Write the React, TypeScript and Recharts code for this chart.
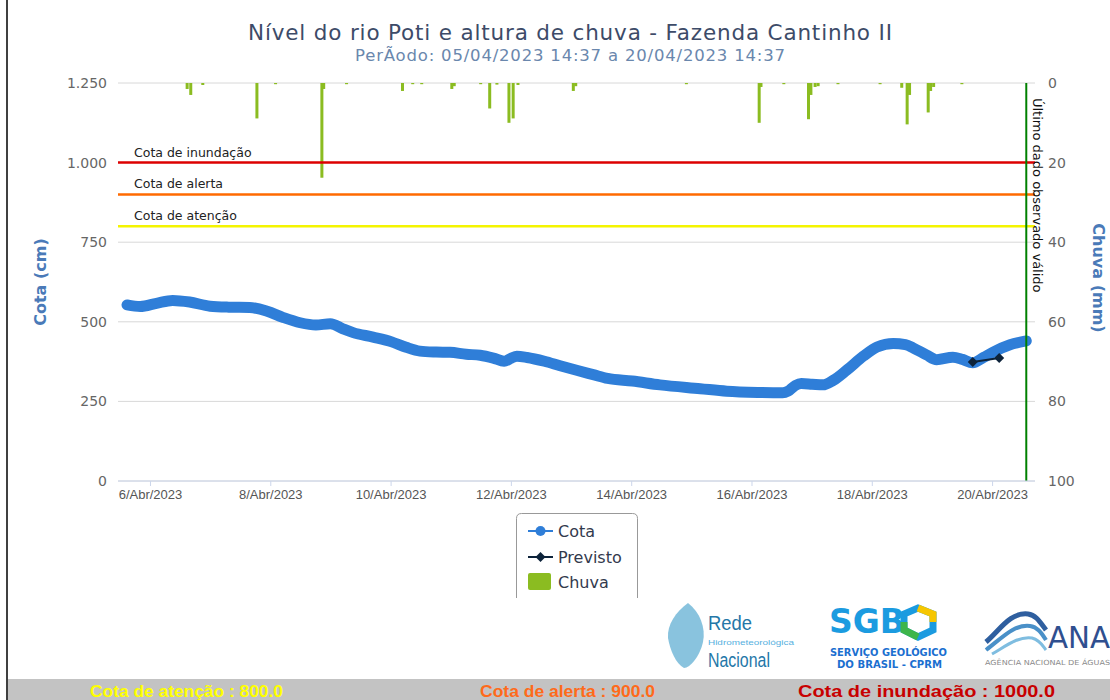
import React from 'react';
import { ComposedChart, Line, Bar, XAxis, YAxis, CartesianGrid, ReferenceLine } from 'recharts';

// dias de abril (fração do dia) e cota em cm
const cotaDias = [
    5.61, 5.83, 6.1, 6.37, 6.65, 6.99, 7.3, 7.65, 7.94, 8.2, 8.49, 8.75, 8.99, 9.2, 9.37, 9.7,
    10.01, 10.25, 10.48, 10.75, 10.98, 11.25, 11.48, 11.7, 11.88, 12.0, 12.09, 12.26, 12.55, 12.81,
    13.1, 13.36, 13.6, 14.01, 14.47, 15.14, 15.58, 16.13, 16.51, 16.6, 16.72, 16.82, 17.0, 17.18,
    17.35, 17.58, 17.85, 18.08, 18.35, 18.55, 18.68, 18.9, 19.07, 19.34, 19.5, 19.67, 19.85, 20.01,
    20.29, 20.56,
];
const cotaCm = [
    553, 548, 558, 567, 562, 549, 546, 545, 533, 514, 497, 490, 494, 478, 466, 452,
    437, 420, 408, 405, 404, 398, 395, 386, 376, 386, 392, 388, 376, 362,
    347, 334, 322, 314, 302, 290, 282, 278, 277, 282, 300, 306, 304, 302,
    316, 349, 392, 421, 432, 428, 418, 396, 381, 389, 382, 371, 388, 405,
    428, 440,
];

const previstoDias = [19.67, 20.11];
const previstoCm = [374, 386];

const chuvaDias = [
    6.61, 6.67, 6.87, 7.77, 8.08, 8.85, 8.88, 9.26, 10.19, 10.36, 10.51, 11.01, 11.05, 11.49,
    11.64, 11.76, 11.96, 12.03, 12.11, 13.03, 13.07, 14.91, 16.12, 16.15, 16.53, 16.94, 16.98,
    17.05, 17.1, 17.43, 18.13, 18.49, 18.58, 18.62, 18.93, 18.97, 19.02, 19.49,
];
const chuvaMm = [
    1.5, 3, 0.5, 8.9, 0.3, 23.8, 1.5, 0.3, 2, 0.3, 0.3, 1.5, 0.8, 0.3,
    6.4, 0.4, 10, 8.9, 0.5, 2, 0.8, 0.3, 10, 1, 0.3, 9.1, 3,
    1, 0.8, 0.3, 0.3, 1.2, 10.4, 3, 7.4, 2, 1, 0.3,
];

const diasTicks = [6, 8, 10, 12, 14, 16, 18, 20];
const cotaTicks = [0, 250, 500, 750, 1000, 1250];
const chuvaTicks = [0, 20, 40, 60, 80, 100];

const cotaNomes = ['Cota de inundação', 'Cota de alerta', 'Cota de atenção'];
const cotaValores = [1000, 900, 800];
const cotaCores = ['#dd0000', '#ff6a00', '#f4f400'];
const ultimoDado = 20.56;

type Row = { t: number; cota?: number; previsto?: number; chuva?: number };
const rowMap = new Map<string, Row>();
const put = (t: number, key: 'cota' | 'previsto' | 'chuva', v: number) => {
    const k = t.toFixed(3);
    const r = rowMap.get(k) ?? { t };
    r[key] = v;
    rowMap.set(k, r);
};
cotaDias.forEach((t, i) => put(t, 'cota', cotaCm[i]));
previstoDias.forEach((t, i) => put(t, 'previsto', previstoCm[i]));
chuvaDias.forEach((t, i) => put(t, 'chuva', chuvaMm[i]));
const rows = [...rowMap.values()].sort((a, b) => a.t - b.t);

const fmtCota = (v: number) =>
    v >= 1000 ? `${Math.floor(v / 1000)}.${String(v % 1000).padStart(3, '0')}` : String(v);

const axisFont = { fill: '#666', fontSize: 14, fontFamily: 'DejaVu Sans' };
const titleBlue = '#4a7ab8';
const narrow = 'Liberation Sans Narrow, Liberation Sans';

const Diamond = (p: any) => {
    const { cx, cy, index } = p;
    if (cx == null || cy == null) return <g key={`d-${index}`} />;
    return (
        <polygon
            key={`d-${index}`}
            points={`${cx},${cy - 5} ${cx + 5},${cy} ${cx},${cy + 5} ${cx - 5},${cy}`}
            fill="#0d233a"
        />
    );
};

// barra fina de chuva, centrada no instante da medição (eixo invertido: altura negativa)
const RainBar = (p: any) => {
    const { x, y, width, height } = p;
    if (x == null || !height) return <g />;
    const top = height < 0 ? y + height : y;
    return <rect x={x + width / 2 - 1.5} y={top} width={3} height={Math.abs(height)} fill="#8bbc21" />;
};

const App: React.FC = () => {
    return (
        <div style={{ position: 'absolute', left: 0, top: 0, width: 1110, height: 700, overflow: 'hidden', background: '#fff' }}>
            <div style={{ position: 'absolute', left: 0, top: 0 }}>
                <ComposedChart width={1110} height={598} data={rows} margin={{ top: 83, right: 2, bottom: 87, left: 24 }}>
                    <CartesianGrid yAxisId="left" vertical={false} stroke="#d8d8d8" />
                    <XAxis
                        dataKey="t"
                        type="number"
                        domain={[5.46, 20.705]}
                        allowDataOverflow
                        ticks={diasTicks}
                        interval={0}
                        tickFormatter={(d) => `${d}/Abr/2023`}
                        stroke="#ccd6eb"
                        tickSize={5}
                        tickMargin={4}
                        height={30}
                        tick={{ fill: '#555', fontSize: 13, fontFamily: 'Liberation Sans' }}
                    />
                    <YAxis
                        yAxisId="left"
                        domain={[0, 1250]}
                        ticks={cotaTicks}
                        interval={0}
                        width={94}
                        axisLine={false}
                        tickLine={false}
                        tickMargin={5}
                        tickFormatter={fmtCota}
                        tick={axisFont}
                        label={(p: any) => {
                            const vb = p.viewBox;
                            const x = vb.x + 16;
                            const y = vb.y + vb.height / 2;
                            return (
                                <text x={x} y={y} transform={`rotate(-90 ${x} ${y})`} textAnchor="middle" dominantBaseline="central"
                                    fill={titleBlue} fontSize={16} fontWeight="bold" fontFamily="DejaVu Sans">
                                    Cota (cm)
                                </text>
                            );
                        }}
                    />
                    <YAxis
                        yAxisId="right"
                        orientation="right"
                        reversed
                        domain={[0, 100]}
                        ticks={chuvaTicks}
                        interval={0}
                        width={73}
                        axisLine={false}
                        tickLine={false}
                        tickMargin={7}
                        tick={axisFont}
                        label={(p: any) => {
                            const vb = p.viewBox;
                            const x = vb.x + vb.width - 10;
                            const y = vb.y + vb.height / 2 - 4;
                            return (
                                <text x={x} y={y} transform={`rotate(90 ${x} ${y})`} textAnchor="middle" dominantBaseline="central"
                                    fill={titleBlue} fontSize={16} fontWeight="bold" fontFamily="DejaVu Sans">
                                    Chuva (mm)
                                </text>
                            );
                        }}
                    />
                    <Bar yAxisId="right" dataKey="chuva" fill="#8bbc21" barSize={3} shape={RainBar} isAnimationActive={false} />
                    {cotaValores.map((v, i) => (
                        <ReferenceLine
                            key={cotaNomes[i]}
                            yAxisId="left"
                            y={v}
                            stroke={cotaCores[i]}
                            strokeWidth={2.5}
                            label={(p: any) => (
                                <text x={p.viewBox.x + 16} y={p.viewBox.y - 6} fill="#222" fontSize={12.5} fontFamily="DejaVu Sans">
                                    {cotaNomes[i]}
                                </text>
                            )}
                        />
                    ))}
                    <Line
                        yAxisId="left"
                        dataKey="cota"
                        type="monotone"
                        stroke="#2f7ed8"
                        strokeWidth={11}
                        strokeLinecap="round"
                        strokeLinejoin="round"
                        dot={false}
                        connectNulls
                        isAnimationActive={false}
                    />
                    <Line
                        yAxisId="left"
                        dataKey="previsto"
                        type="linear"
                        stroke="#0d233a"
                        strokeWidth={2}
                        dot={Diamond}
                        connectNulls
                        isAnimationActive={false}
                    />
                    <ReferenceLine
                        yAxisId="left"
                        x={ultimoDado}
                        stroke="#008000"
                        strokeWidth={2}
                        label={(p: any) => {
                            const x = p.viewBox.x + 11;
                            const y = p.viewBox.y + 15;
                            return (
                                <text x={x} y={y} transform={`rotate(90 ${x} ${y})`} dominantBaseline="central" fill="#111" fontSize={13} fontFamily="DejaVu Sans">
                                    Último dado observado válido
                                </text>
                            );
                        }}
                    />
                </ComposedChart>
            </div>

            <svg width={1110} height={700} style={{ position: 'absolute', left: 0, top: 0, pointerEvents: 'none' }}>
                <text x={570} y={40} textAnchor="middle" fill="#3d4b68" fontSize={21.5} fontFamily="DejaVu Sans" textLength={644}>
                    Nível do rio Poti e altura de chuva - Fazenda Cantinho II
                </text>
                <text x={570} y={61} textAnchor="middle" fill="#6a87ad" fontSize={16.5} fontFamily="DejaVu Sans" textLength={430}>
                    PerÃodo: 05/04/2023 14:37 a 20/04/2023 14:37
                </text>

                {/* legenda */}
                <path d="M516.5,598 V518.5 Q516.5,513.5 521.5,513.5 H632.5 Q637.5,513.5 637.5,518.5 V598" fill="#fff" stroke="#999" />
                <line x1={528} y1={531} x2={553} y2={531} stroke="#2f7ed8" strokeWidth={2} />
                <circle cx={540.5} cy={531} r={5} fill="#2f7ed8" />
                <text x={558} y={531} dominantBaseline="central" fill="#333a4d" fontSize={16} fontFamily="DejaVu Sans">Cota</text>
                <line x1={528} y1={557} x2={553} y2={557} stroke="#0d233a" strokeWidth={2} />
                <polygon points="540.5,552 545.5,557 540.5,562 535.5,557" fill="#0d233a" />
                <text x={558} y={557} dominantBaseline="central" fill="#333a4d" fontSize={16} fontFamily="DejaVu Sans">Previsto</text>
                <rect x={528} y={573} width={23} height={17} rx={2} fill="#8bbc21" />
                <text x={558} y={582} dominantBaseline="central" fill="#333a4d" fontSize={16} fontFamily="DejaVu Sans">Chuva</text>

                {/* Rede Hidrometeorológica Nacional */}
                <path d="M688,603 C700,612 706,628 703,642 C700,656 690,668 684,668 C676,664 670,650 668,638 C667,624 676,612 688,603 Z" fill="#4aa3cc" opacity={0.65} />
                <text x={708} y={630} fill="#2477a8" fontSize={21} fontFamily={narrow} textLength={44} lengthAdjust="spacingAndGlyphs">Rede</text>
                <text x={708} y={645} fill="#56b0e0" fontSize={8} fontFamily={narrow} textLength={86} lengthAdjust="spacingAndGlyphs">Hidrometeorológica</text>
                <text x={708} y={667} fill="#2477a8" fontSize={20} fontFamily={narrow} textLength={62} lengthAdjust="spacingAndGlyphs">Nacional</text>

                {/* SGB */}
                <text x={829} y={633} fill="#1b9be0" fontSize={33} fontWeight={900} fontFamily="DejaVu Sans" textLength={76} lengthAdjust="spacingAndGlyphs">SGB</text>
                <polygon points="918,608 933,614 933,630 918,637 904,630 904,614" fill="none" stroke="#1b9be0" strokeWidth={7} />
                <path d="M918,608 L933,614 L933,622" fill="none" stroke="#f6c600" strokeWidth={7} />
                <path d="M904,622 L904,630 L918,637" fill="none" stroke="#3db54a" strokeWidth={7} />
                <text x={830} y={656} fill="#1b6fd0" fontSize={10} fontWeight="bold" fontFamily="DejaVu Sans" textLength={117} lengthAdjust="spacingAndGlyphs">SERVIÇO GEOLÓGICO</text>
                <text x={837} y={668} fill="#1b6fd0" fontSize={10} fontWeight="bold" fontFamily="DejaVu Sans" textLength={105} lengthAdjust="spacingAndGlyphs">DO BRASIL - CPRM</text>

                {/* ANA */}
                <path d="M986,642 C1000,630 1010,612 1028,614 C1036,615 1040,622 1046,630" fill="none" stroke="#2f5f9f" strokeWidth={5} />
                <path d="M986,650 C1002,638 1014,624 1030,626 C1038,627 1042,634 1046,640" fill="none" stroke="#4a90c8" strokeWidth={4} />
                <path d="M992,654 C1006,646 1018,636 1032,638 C1040,640 1043,646 1046,650" fill="none" stroke="#7fbde0" strokeWidth={3} />
                <text x={1048} y={648} fill="#2f4f8f" fontSize={30} fontFamily="DejaVu Sans" textLength={62} lengthAdjust="spacingAndGlyphs">ANA</text>
                <text x={985} y={665} fill="#8a8a8a" fontSize={7} fontFamily="DejaVu Sans" textLength={125} lengthAdjust="spacingAndGlyphs">AGÊNCIA NACIONAL DE ÁGUAS</text>

                {/* faixa inferior */}
                <rect x={8} y={679} width={1102} height={21} fill="#c3c3c3" />
                <text x={90} y={697} fill="#ffff00" fontSize={17} fontWeight="bold" fontFamily={narrow} textLength={193} lengthAdjust="spacingAndGlyphs">Cota de atenção : 800.0</text>
                <text x={480} y={697} fill="#ff6a1a" fontSize={17} fontWeight="bold" fontFamily={narrow} textLength={175} lengthAdjust="spacingAndGlyphs">Cota de alerta : 900.0</text>
                <text x={798} y={697} fill="#c80000" fontSize={17} fontWeight="bold" fontFamily={narrow} textLength={257} lengthAdjust="spacingAndGlyphs">Cota de inundação : 1000.0</text>
                <line x1={7} y1={0} x2={7} y2={700} stroke="#000" strokeWidth={1.5} />
            </svg>
        </div>
    );
};

export default App;
